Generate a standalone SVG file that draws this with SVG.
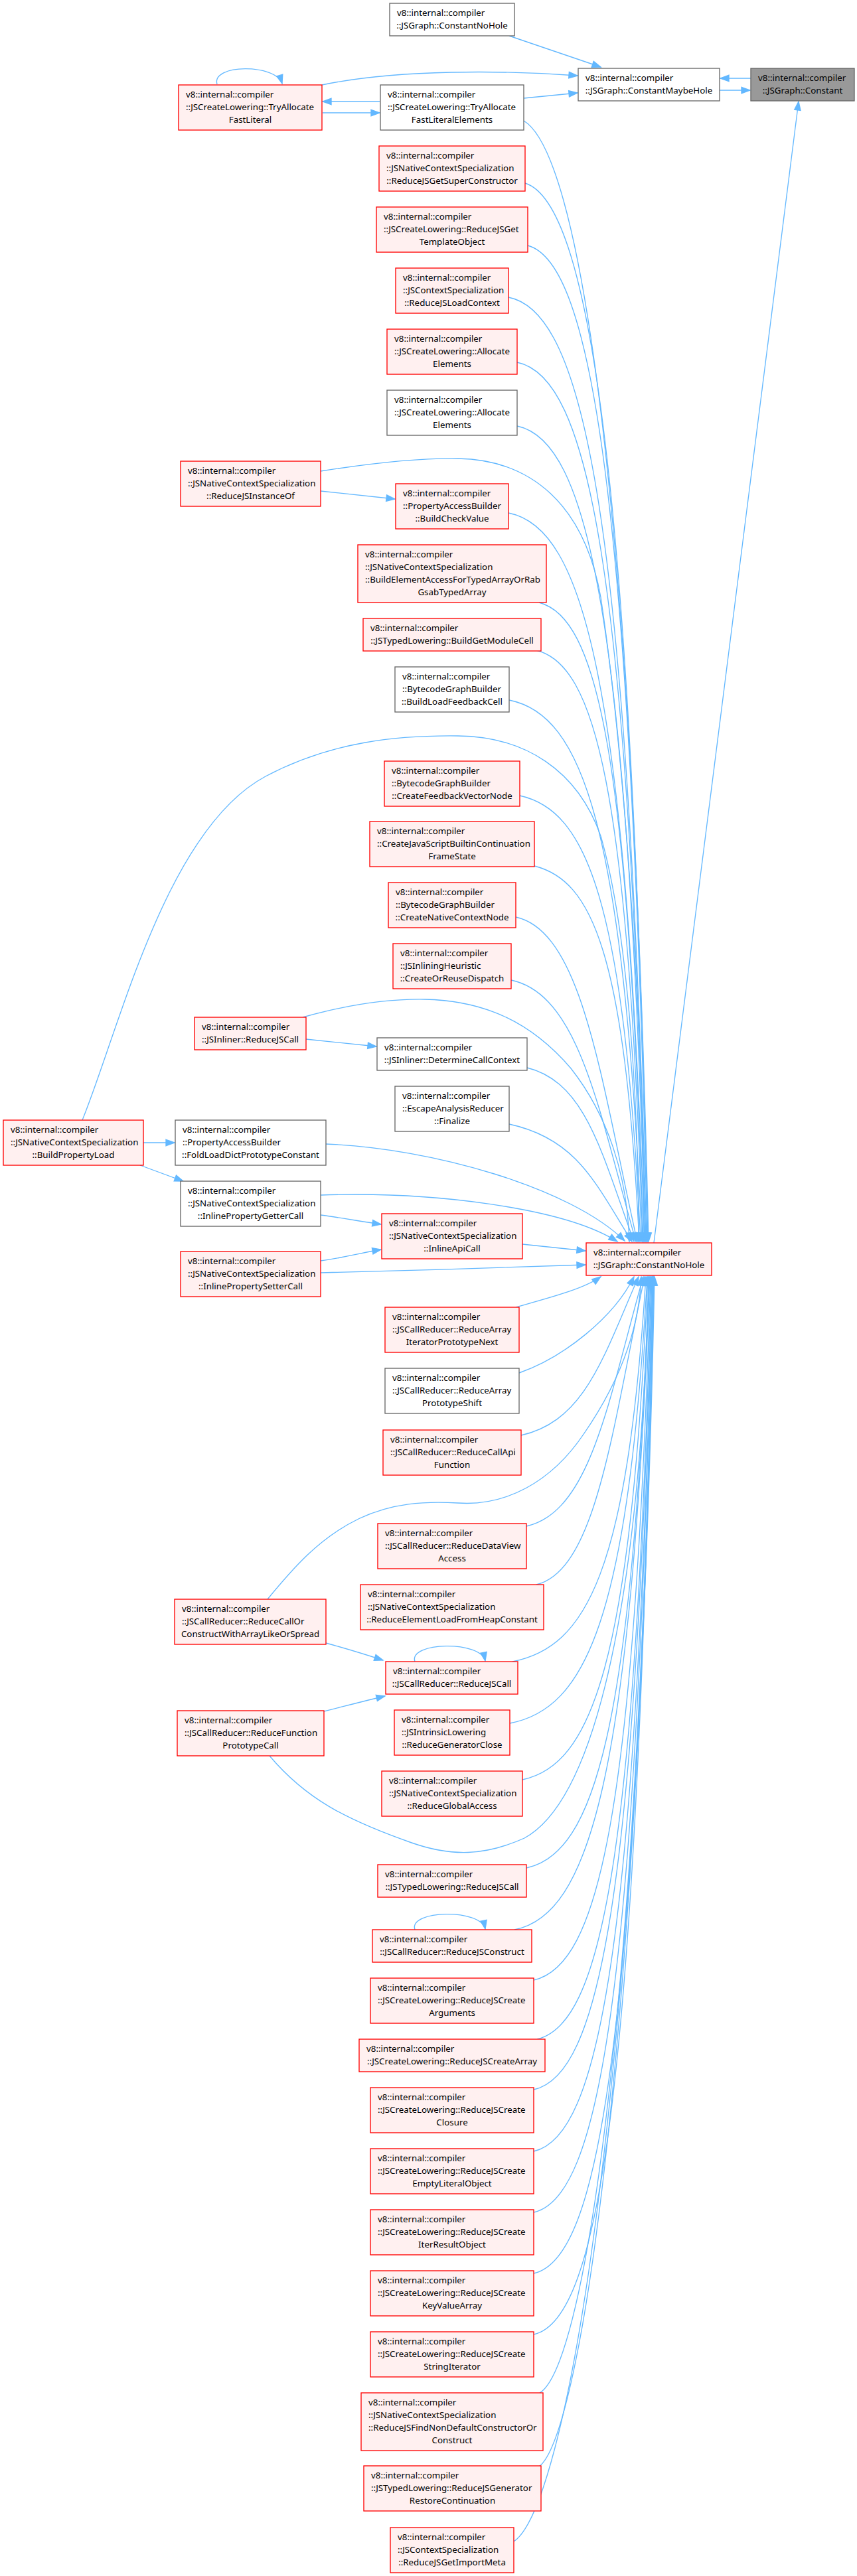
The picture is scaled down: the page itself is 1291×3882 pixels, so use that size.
<svg xmlns="http://www.w3.org/2000/svg" width="1291" height="3882" viewBox="0 0 1291 3882">
<style>
.nr{fill:#fff0f0;stroke:#ff0000;stroke-width:1.33}
.nw{fill:#ffffff;stroke:#666666;stroke-width:1.33}
.ng{fill:#999999;stroke:#666666;stroke-width:1.33}
text{font-family:"Noto Sans","DejaVu Sans",sans-serif;font-size:13.33px;fill:#000}
.c{text-anchor:middle}
.e path{fill:none;stroke:#63b8ff;stroke-width:1.33;marker-end:url(#ah)}
</style>
<defs>
<marker id="ah" markerUnits="userSpaceOnUse" markerWidth="15" markerHeight="11" refX="13" refY="5" orient="auto" overflow="visible">
<path d="M0,0.3 L13,5 L0,9.7 z" fill="#63b8ff" stroke="#63b8ff" stroke-width="1.33"/>
</marker>
</defs>
<rect width="1291" height="3882" fill="#ffffff"/>
<g id="connectors" class="e">
<path d="M767,54 L905,101"/>
<path d="M485,128 C600,104 760,106 870,114"/>
<path d="M789,148 L870,140"/>
<path d="M1131,118 L1085,118"/>
<path d="M1084,136 L1130,136"/>
<path d="M572,153 L486,153"/>
<path d="M486,170 L572,170"/>
<path d="M327,127 C318,96 416,96 425,126"/>
<path d="M985,1873 L1203,153"/>
<path d="M789,182 C870,230 950,700 977,1871"/>
<path d="M791,276 C885,305 950,700 976,1871"/>
<path d="M795,370 C890,395 950,745 975,1871"/>
<path d="M766,448 C880,470 945,780 974,1871"/>
<path d="M779,546 C886,568 946,851 973,1871"/>
<path d="M779,642 C885,664 945,925 972,1871"/>
<path d="M483,710 C560,698 630,690 690,691 C800,693 880,760 905,900 C935,1100 969,1500 970,1871"/>
<path d="M483,740 L595,752"/>
<path d="M766,773 C879,795 942,1026 971,1871"/>
<path d="M812,908 C898,930 947,1129 969,1871"/>
<path d="M808,980 C896,1002 946,1185 968,1871"/>
<path d="M767,1055 C877,1077 939,1243 967,1871"/>
<path d="M124,1688 C180,1550 250,1250 400,1170 C500,1117 600,1108 690,1109 C790,1110 870,1160 905,1260 C945,1400 962,1650 962,1871"/>
<path d="M783,1199 C883,1221 940,1354 965,1871"/>
<path d="M805,1305 C892,1327 941,1435 963,1871"/>
<path d="M777,1382 C878,1404 905,1627 960,1871"/>
<path d="M770,1477 C873,1499 902,1674 958,1871"/>
<path d="M456,1533 C520,1515 580,1505 640,1506 C730,1508 800,1540 860,1610 C915,1680 945,1770 948,1871"/>
<path d="M461,1566 L567,1577"/>
<path d="M794,1609 C883,1631 907,1740 955,1871"/>
<path d="M767,1694 C869,1716 897,1783 952,1871"/>
<path d="M216,1722 L263,1722"/>
<path d="M211,1756 L276,1780"/>
<path d="M491,1724 C650,1730 860,1790 941,1870"/>
<path d="M483,1801 C650,1795 850,1820 930,1871"/>
<path d="M483,1831 C520,1836 545,1841 574,1845"/>
<path d="M483,1900 C520,1895 545,1888 574,1883"/>
<path d="M787,1875 L882,1885"/>
<path d="M483,1918 C600,1915 780,1910 882,1906"/>
<path d="M777,1970 C830,1955 880,1942 905,1924"/>
<path d="M782,2069 C850,2045 925,1985 955,1924"/>
<path d="M785,2163 C882,2141 909,2044 962,1924"/>
<path d="M403,2410 C440,2365 480,2318 540,2289 C590,2265 640,2262 690,2265 C760,2270 830,2235 880,2160 C935,2080 963,2000 966,1924"/>
<path d="M793,2300 C890,2278 916,2112 969,1924"/>
<path d="M808,2388 C898,2366 922,2156 971,1924"/>
<path d="M491,2476 C520,2484 550,2493 577,2502"/>
<path d="M625,2504 C615,2474 725,2472 731,2503"/>
<path d="M772,2504 C883,2482 945,2371 973,1924"/>
<path d="M488,2579 C520,2571 550,2563 580,2556"/>
<path d="M768,2597 C882,2575 946,2442 975,1924"/>
<path d="M787,2682 C891,2660 950,2508 976,1924"/>
<path d="M406,2646 C460,2710 520,2742 620,2777 C680,2798 730,2797 790,2770 C900,2710 965,2400 977,1924"/>
<path d="M793,2815 C895,2793 952,2610 978,1924"/>
<path d="M625,2908 C615,2878 725,2876 731,2907"/>
<path d="M775,2908 C887,2886 950,2682 979,1924"/>
<path d="M804,2984 C901,2962 955,2740 980,1924"/>
<path d="M809,3073 C904,3051 957,2809 981,1924"/>
<path d="M804,3149 C902,3127 957,2867 982,1924"/>
<path d="M804,3242 C902,3220 958,2939 983,1924"/>
<path d="M804,3334 C902,3312 958,3010 983,1924"/>
<path d="M804,3426 C903,3404 959,3081 984,1924"/>
<path d="M804,3518 C903,3496 959,3151 984,1924"/>
<path d="M813,3606 C875,3570 960,3100 985,1924"/>
<path d="M812,3717 C870,3675 960,3150 985,1924"/>
<path d="M774,3830 C850,3780 960,3200 986,1924"/>
</g>
<g id="n1"><rect class="nw" x="587" y="5" width="188" height="49"/><text x="598" y="23.5">v8::internal::compiler</text><text class="c" x="681" y="42.5">::JSGraph::ConstantNoHole</text></g>
<g id="n2"><rect class="nw" x="871" y="103" width="213" height="49"/><text x="882" y="121.5">v8::internal::compiler</text><text class="c" x="977.5" y="140.5">::JSGraph::ConstantMaybeHole</text></g>
<g id="n3"><rect class="ng" x="1131" y="103" width="156" height="49"/><text x="1142" y="121.5">v8::internal::compiler</text><text class="c" x="1209" y="140.5">::JSGraph::Constant</text></g>
<g id="n4"><rect class="nr" x="269" y="128" width="216" height="68"/><text x="280" y="146.5">v8::internal::compiler</text><text x="280" y="165.5">::JSCreateLowering::TryAllocate</text><text class="c" x="377" y="184.5">FastLiteral</text></g>
<g id="n5"><rect class="nw" x="573" y="128" width="216" height="68"/><text x="584" y="146.5">v8::internal::compiler</text><text x="584" y="165.5">::JSCreateLowering::TryAllocate</text><text class="c" x="681" y="184.5">FastLiteralElements</text></g>
<g id="n6"><rect class="nr" x="571" y="220" width="220" height="68"/><text x="582" y="238.5">v8::internal::compiler</text><text x="582" y="257.5">::JSNativeContextSpecialization</text><text class="c" x="681" y="276.5">::ReduceJSGetSuperConstructor</text></g>
<g id="n7"><rect class="nr" x="567" y="312" width="228" height="68"/><text x="578" y="330.5">v8::internal::compiler</text><text x="578" y="349.5">::JSCreateLowering::ReduceJSGet</text><text class="c" x="681" y="368.5">TemplateObject</text></g>
<g id="n8"><rect class="nr" x="596" y="404" width="170" height="68"/><text x="607" y="422.5">v8::internal::compiler</text><text x="607" y="441.5">::JSContextSpecialization</text><text class="c" x="681" y="460.5">::ReduceJSLoadContext</text></g>
<g id="n9"><rect class="nr" x="583" y="496" width="196" height="68"/><text x="594" y="514.5">v8::internal::compiler</text><text x="594" y="533.5">::JSCreateLowering::Allocate</text><text class="c" x="681" y="552.5">Elements</text></g>
<g id="n10"><rect class="nw" x="583" y="588" width="196" height="68"/><text x="594" y="606.5">v8::internal::compiler</text><text x="594" y="625.5">::JSCreateLowering::Allocate</text><text class="c" x="681" y="644.5">Elements</text></g>
<g id="n11"><rect class="nr" x="272" y="695" width="211" height="68"/><text x="283" y="713.5">v8::internal::compiler</text><text x="283" y="732.5">::JSNativeContextSpecialization</text><text class="c" x="377.5" y="751.5">::ReduceJSInstanceOf</text></g>
<g id="n12"><rect class="nr" x="596" y="729" width="170" height="68"/><text x="607" y="747.5">v8::internal::compiler</text><text x="607" y="766.5">::PropertyAccessBuilder</text><text class="c" x="681" y="785.5">::BuildCheckValue</text></g>
<g id="n13"><rect class="nr" x="539" y="821" width="284" height="87"/><text x="550" y="839.5">v8::internal::compiler</text><text x="550" y="858.5">::JSNativeContextSpecialization</text><text x="550" y="877.5">::BuildElementAccessForTypedArrayOrRab</text><text class="c" x="681" y="896.5">GsabTypedArray</text></g>
<g id="n14"><rect class="nr" x="547" y="932" width="268" height="49"/><text x="558" y="950.5">v8::internal::compiler</text><text class="c" x="681" y="969.5">::JSTypedLowering::BuildGetModuleCell</text></g>
<g id="n15"><rect class="nw" x="595" y="1005" width="172" height="68"/><text x="606" y="1023.5">v8::internal::compiler</text><text x="606" y="1042.5">::BytecodeGraphBuilder</text><text class="c" x="681" y="1061.5">::BuildLoadFeedbackCell</text></g>
<g id="n16"><rect class="nr" x="579" y="1147" width="204" height="68"/><text x="590" y="1165.5">v8::internal::compiler</text><text x="590" y="1184.5">::BytecodeGraphBuilder</text><text class="c" x="681" y="1203.5">::CreateFeedbackVectorNode</text></g>
<g id="n17"><rect class="nr" x="557" y="1238" width="248" height="68"/><text x="568" y="1256.5">v8::internal::compiler</text><text x="568" y="1275.5">::CreateJavaScriptBuiltinContinuation</text><text class="c" x="681" y="1294.5">FrameState</text></g>
<g id="n18"><rect class="nr" x="585" y="1330" width="192" height="68"/><text x="596" y="1348.5">v8::internal::compiler</text><text x="596" y="1367.5">::BytecodeGraphBuilder</text><text class="c" x="681" y="1386.5">::CreateNativeContextNode</text></g>
<g id="n19"><rect class="nr" x="592" y="1422" width="178" height="68"/><text x="603" y="1440.5">v8::internal::compiler</text><text x="603" y="1459.5">::JSInliningHeuristic</text><text class="c" x="681" y="1478.5">::CreateOrReuseDispatch</text></g>
<g id="n20"><rect class="nr" x="293" y="1533" width="168" height="49"/><text x="304" y="1551.5">v8::internal::compiler</text><text class="c" x="377" y="1570.5">::JSInliner::ReduceJSCall</text></g>
<g id="n21"><rect class="nw" x="568" y="1564" width="226" height="49"/><text x="579" y="1582.5">v8::internal::compiler</text><text class="c" x="681" y="1601.5">::JSInliner::DetermineCallContext</text></g>
<g id="n22"><rect class="nw" x="595" y="1637" width="172" height="68"/><text x="606" y="1655.5">v8::internal::compiler</text><text x="606" y="1674.5">::EscapeAnalysisReducer</text><text class="c" x="681" y="1693.5">::Finalize</text></g>
<g id="n23"><rect class="nr" x="5" y="1688" width="211" height="68"/><text x="16" y="1706.5">v8::internal::compiler</text><text x="16" y="1725.5">::JSNativeContextSpecialization</text><text class="c" x="110.5" y="1744.5">::BuildPropertyLoad</text></g>
<g id="n24"><rect class="nw" x="264" y="1688" width="227" height="68"/><text x="275" y="1706.5">v8::internal::compiler</text><text x="275" y="1725.5">::PropertyAccessBuilder</text><text class="c" x="377.5" y="1744.5">::FoldLoadDictPrototypeConstant</text></g>
<g id="n25"><rect class="nw" x="272" y="1780" width="211" height="68"/><text x="283" y="1798.5">v8::internal::compiler</text><text x="283" y="1817.5">::JSNativeContextSpecialization</text><text class="c" x="377.5" y="1836.5">::InlinePropertyGetterCall</text></g>
<g id="n26"><rect class="nr" x="575" y="1829" width="212" height="68"/><text x="586" y="1847.5">v8::internal::compiler</text><text x="586" y="1866.5">::JSNativeContextSpecialization</text><text class="c" x="681" y="1885.5">::InlineApiCall</text></g>
<g id="n27"><rect class="nr" x="883" y="1873" width="189" height="49"/><text x="894" y="1891.5">v8::internal::compiler</text><text class="c" x="977.5" y="1910.5">::JSGraph::ConstantNoHole</text></g>
<g id="n28"><rect class="nr" x="272" y="1886" width="211" height="68"/><text x="283" y="1904.5">v8::internal::compiler</text><text x="283" y="1923.5">::JSNativeContextSpecialization</text><text class="c" x="377.5" y="1942.5">::InlinePropertySetterCall</text></g>
<g id="n29"><rect class="nr" x="580" y="1970" width="202" height="68"/><text x="591" y="1988.5">v8::internal::compiler</text><text x="591" y="2007.5">::JSCallReducer::ReduceArray</text><text class="c" x="681" y="2026.5">IteratorPrototypeNext</text></g>
<g id="n30"><rect class="nw" x="580" y="2062" width="202" height="68"/><text x="591" y="2080.5">v8::internal::compiler</text><text x="591" y="2099.5">::JSCallReducer::ReduceArray</text><text class="c" x="681" y="2118.5">PrototypeShift</text></g>
<g id="n31"><rect class="nr" x="577" y="2155" width="208" height="68"/><text x="588" y="2173.5">v8::internal::compiler</text><text x="588" y="2192.5">::JSCallReducer::ReduceCallApi</text><text class="c" x="681" y="2211.5">Function</text></g>
<g id="n32"><rect class="nr" x="569" y="2296" width="224" height="68"/><text x="580" y="2314.5">v8::internal::compiler</text><text x="580" y="2333.5">::JSCallReducer::ReduceDataView</text><text class="c" x="681" y="2352.5">Access</text></g>
<g id="n33"><rect class="nr" x="543" y="2388" width="276" height="68"/><text x="554" y="2406.5">v8::internal::compiler</text><text x="554" y="2425.5">::JSNativeContextSpecialization</text><text class="c" x="681" y="2444.5">::ReduceElementLoadFromHeapConstant</text></g>
<g id="n34"><rect class="nr" x="263" y="2410" width="228" height="68"/><text x="274" y="2428.5">v8::internal::compiler</text><text x="274" y="2447.5">::JSCallReducer::ReduceCallOr</text><text class="c" x="377" y="2466.5">ConstructWithArrayLikeOrSpread</text></g>
<g id="n35"><rect class="nr" x="581" y="2504" width="199" height="49"/><text x="592" y="2522.5">v8::internal::compiler</text><text class="c" x="680.5" y="2541.5">::JSCallReducer::ReduceJSCall</text></g>
<g id="n36"><rect class="nr" x="594" y="2577" width="174" height="68"/><text x="605" y="2595.5">v8::internal::compiler</text><text x="605" y="2614.5">::JSIntrinsicLowering</text><text class="c" x="681" y="2633.5">::ReduceGeneratorClose</text></g>
<g id="n37"><rect class="nr" x="267" y="2578" width="221" height="68"/><text x="278" y="2596.5">v8::internal::compiler</text><text x="278" y="2615.5">::JSCallReducer::ReduceFunction</text><text class="c" x="377.5" y="2634.5">PrototypeCall</text></g>
<g id="n38"><rect class="nr" x="575" y="2669" width="212" height="68"/><text x="586" y="2687.5">v8::internal::compiler</text><text x="586" y="2706.5">::JSNativeContextSpecialization</text><text class="c" x="681" y="2725.5">::ReduceGlobalAccess</text></g>
<g id="n39"><rect class="nr" x="569" y="2810" width="224" height="49"/><text x="580" y="2828.5">v8::internal::compiler</text><text class="c" x="681" y="2847.5">::JSTypedLowering::ReduceJSCall</text></g>
<g id="n40"><rect class="nr" x="561" y="2908" width="240" height="49"/><text x="572" y="2926.5">v8::internal::compiler</text><text class="c" x="681" y="2945.5">::JSCallReducer::ReduceJSConstruct</text></g>
<g id="n41"><rect class="nr" x="558" y="2981" width="246" height="68"/><text x="569" y="2999.5">v8::internal::compiler</text><text x="569" y="3018.5">::JSCreateLowering::ReduceJSCreate</text><text class="c" x="681" y="3037.5">Arguments</text></g>
<g id="n42"><rect class="nr" x="541" y="3073" width="280" height="49"/><text x="552" y="3091.5">v8::internal::compiler</text><text class="c" x="681" y="3110.5">::JSCreateLowering::ReduceJSCreateArray</text></g>
<g id="n43"><rect class="nr" x="558" y="3146" width="246" height="68"/><text x="569" y="3164.5">v8::internal::compiler</text><text x="569" y="3183.5">::JSCreateLowering::ReduceJSCreate</text><text class="c" x="681" y="3202.5">Closure</text></g>
<g id="n44"><rect class="nr" x="558" y="3238" width="246" height="68"/><text x="569" y="3256.5">v8::internal::compiler</text><text x="569" y="3275.5">::JSCreateLowering::ReduceJSCreate</text><text class="c" x="681" y="3294.5">EmptyLiteralObject</text></g>
<g id="n45"><rect class="nr" x="558" y="3330" width="246" height="68"/><text x="569" y="3348.5">v8::internal::compiler</text><text x="569" y="3367.5">::JSCreateLowering::ReduceJSCreate</text><text class="c" x="681" y="3386.5">IterResultObject</text></g>
<g id="n46"><rect class="nr" x="558" y="3422" width="246" height="68"/><text x="569" y="3440.5">v8::internal::compiler</text><text x="569" y="3459.5">::JSCreateLowering::ReduceJSCreate</text><text class="c" x="681" y="3478.5">KeyValueArray</text></g>
<g id="n47"><rect class="nr" x="558" y="3514" width="246" height="68"/><text x="569" y="3532.5">v8::internal::compiler</text><text x="569" y="3551.5">::JSCreateLowering::ReduceJSCreate</text><text class="c" x="681" y="3570.5">StringIterator</text></g>
<g id="n48"><rect class="nr" x="544" y="3606" width="274" height="87"/><text x="555" y="3624.5">v8::internal::compiler</text><text x="555" y="3643.5">::JSNativeContextSpecialization</text><text x="555" y="3662.5">::ReduceJSFindNonDefaultConstructorOr</text><text class="c" x="681" y="3681.5">Construct</text></g>
<g id="n49"><rect class="nr" x="548" y="3716" width="267" height="68"/><text x="559" y="3734.5">v8::internal::compiler</text><text x="559" y="3753.5">::JSTypedLowering::ReduceJSGenerator</text><text class="c" x="681.5" y="3772.5">RestoreContinuation</text></g>
<g id="n50"><rect class="nr" x="588" y="3809" width="186" height="68"/><text x="599" y="3827.5">v8::internal::compiler</text><text x="599" y="3846.5">::JSContextSpecialization</text><text class="c" x="681" y="3865.5">::ReduceJSGetImportMeta</text></g>
</svg>
